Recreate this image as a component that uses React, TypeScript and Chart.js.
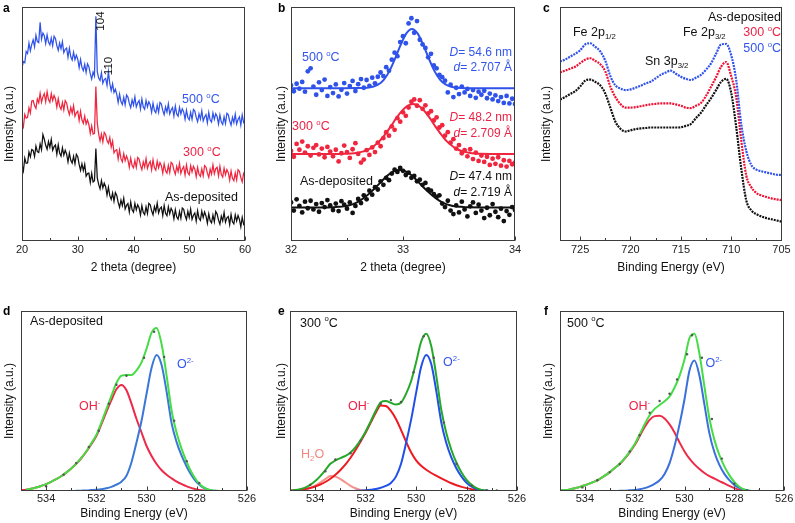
import React, { useEffect, useRef } from 'react';
import { Chart, registerables } from 'chart.js';

Chart.register(...registerables);

const FONT = '"Liberation Sans", Arial, Helvetica, sans-serif';

// ---------------- (a) XRD patterns ----------------
const xrdTheta: number[] = Array.from({ length: 161 }, (_, i) => 20 + i * 0.25); // 0.25 deg sampling grid
const xrdAsDeposited = [
  32.5, 30.0, 35.4, 33.2, 33.3, 38.0, 36.0, 39.1, 38.7, 36.1, 40.6, 38.2, 37.8, 41.5, 39.0, 45.5,
  43.5, 40.9, 39.2, 42.5, 40.1, 43.4, 38.8, 40.3, 41.0, 37.1, 41.1, 37.6, 36.3, 39.8, 36.7, 38.8,
  37.2, 33.8, 37.6, 34.5, 33.3, 36.2, 33.0, 37.0, 36.0, 32.7, 30.2, 33.0, 30.1, 32.8, 27.7, 28.8,
  29.0, 25.0, 28.9, 25.2, 25.8, 39.5, 27.0, 24.2, 22.3, 25.8, 22.7, 24.7, 23.2, 19.6, 23.0, 19.4,
  17.8, 20.5, 17.0, 20.7, 19.5, 16.5, 14.4, 17.5, 15.1, 18.3, 13.7, 15.2, 16.0, 12.4, 16.7, 13.3,
  12.3, 16.1, 13.3, 15.5, 14.2, 11.1, 15.1, 12.2, 11.3, 14.6, 11.7, 16.1, 15.5, 12.9, 11.2, 14.7,
  12.6, 16.2, 12.0, 13.9, 14.5, 10.9, 15.2, 11.8, 10.8, 14.6, 11.7, 14.0, 12.7, 9.5, 13.4, 10.3,
  9.3, 12.6, 9.7, 14.1, 13.5, 10.9, 9.2, 12.7, 10.1, 13.6, 9.3, 11.0, 12.0, 8.5, 12.9, 9.7,
  8.8, 12.7, 10.0, 12.4, 10.7, 7.6, 11.6, 8.7, 7.8, 11.1, 8.2, 12.6, 11.5, 8.9, 7.2, 10.7,
  8.6, 12.2, 8.0, 9.9, 10.5, 7.0, 11.4, 8.2, 7.3, 11.2, 8.5, 10.9, 9.2, 6.1, 10.1, 7.2,
  8.3,
];
const xrd300 = [
  50.7, 48.8, 54.1, 52.5, 52.8, 56.9, 54.7, 59.8, 60.0, 57.9, 56.7, 60.7, 59.1, 63.1, 59.3, 61.6,
  63.0, 59.5, 63.8, 60.4, 59.3, 63.0, 60.0, 62.2, 60.7, 57.2, 60.8, 57.6, 56.3, 59.2, 56.0, 60.0,
  59.0, 56.0, 54.0, 57.1, 54.6, 57.8, 53.3, 54.8, 55.5, 51.5, 55.4, 51.7, 50.3, 53.4, 50.0, 51.7,
  49.7, 45.9, 49.2, 45.7, 46.0, 66.0, 50.5, 45.8, 42.8, 45.7, 42.4, 46.4, 45.5, 42.9, 41.7, 44.2,
  40.1, 42.7, 37.7, 38.7, 39.0, 35.0, 38.9, 35.2, 33.8, 37.3, 34.3, 36.3, 34.7, 31.5, 35.4, 32.3,
  31.3, 34.5, 31.4, 35.7, 35.0, 32.3, 30.5, 33.8, 31.6, 35.2, 31.0, 32.9, 34.0, 30.4, 34.7, 31.3,
  30.3, 34.1, 31.3, 33.5, 32.2, 29.0, 33.0, 30.0, 29.0, 32.3, 29.3, 33.6, 33.0, 30.3, 28.5, 31.9,
  29.7, 33.2, 28.9, 30.8, 31.8, 28.2, 32.5, 29.2, 28.3, 32.2, 29.5, 31.9, 30.7, 27.5, 31.5, 28.5,
  27.6, 30.8, 27.9, 32.2, 31.6, 29.0, 27.2, 30.7, 28.6, 32.5, 28.7, 30.9, 31.5, 27.8, 31.9, 28.4,
  27.3, 31.1, 28.3, 30.5, 29.2, 26.0, 29.9, 26.8, 25.8, 29.1, 26.1, 30.5, 29.8, 27.1, 25.3, 28.8,
  27.5,
];
const xrd500 = [
  74.0, 76.7, 76.2, 81.0, 80.1, 84.6, 81.3, 84.0, 86.0, 83.0, 87.9, 85.2, 84.8, 93.5, 86.3, 88.9,
  87.7, 84.4, 88.1, 85.0, 83.8, 86.7, 83.5, 87.5, 86.5, 83.5, 81.5, 84.6, 82.1, 85.2, 80.5, 81.9,
  82.5, 78.5, 82.4, 78.7, 77.3, 80.7, 77.5, 79.4, 77.7, 74.1, 77.6, 74.2, 72.8, 75.5, 72.0, 75.7,
  74.5, 71.4, 69.2, 72.2, 70.5, 96.0, 72.5, 69.6, 68.6, 71.9, 67.4, 69.0, 69.5, 66.5, 72.4, 67.2,
  64.3, 67.2, 63.5, 64.9, 62.7, 59.2, 62.8, 59.6, 58.3, 61.4, 58.2, 62.4, 61.5, 58.8, 57.0, 60.3,
  58.1, 61.6, 57.3, 59.0, 60.0, 56.4, 60.7, 57.3, 56.3, 60.1, 57.3, 59.5, 58.2, 55.0, 58.9, 55.8,
  54.8, 58.0, 55.0, 59.2, 58.5, 55.8, 54.0, 57.3, 55.1, 58.6, 54.3, 56.0, 57.0, 53.4, 57.7, 54.3,
  53.3, 57.1, 54.3, 56.5, 55.2, 52.0, 55.9, 52.8, 51.8, 55.0, 52.0, 56.2, 55.5, 52.8, 51.0, 54.3,
  52.1, 55.6, 51.3, 53.0, 54.0, 50.5, 54.9, 51.7, 50.8, 54.7, 52.0, 54.4, 53.2, 50.0, 53.9, 50.8,
  49.8, 53.1, 50.2, 54.6, 54.0, 51.3, 49.5, 52.8, 50.6, 54.2, 50.0, 51.9, 53.0, 49.5, 53.9, 50.7,
  51.5,
];

// ---------------- (b) (104) peak detail ----------------
const peakTheta: number[] = Array.from({ length: 81 }, (_, i) => 32 + i * 0.025); // sampling grid
const peakAsDeposited = [
  16.5, 13.0, 17.8, 15.0, 12.2, 16.8, 14.0, 17.2, 13.5, 15.8,
  12.5, 16.2, 14.5, 17.5, 15.2, 13.2, 16.0, 12.8, 17.0, 15.5,
  13.8, 16.5, 12.0, 15.0, 18.0, 16.2, 19.5, 17.8, 21.5, 19.8,
  23.0, 22.0, 25.5, 24.0, 27.0, 26.0, 28.8, 30.5, 29.5, 31.2,
  30.0, 28.2, 29.2, 27.0, 27.8, 25.5, 26.2, 24.0, 24.8, 22.0,
  21.5, 20.0, 18.8, 19.5, 16.0, 14.5, 17.2, 13.0, 11.5, 15.2,
  12.2, 16.8, 13.5, 10.5, 14.8, 16.5, 12.0, 15.5, 13.0, 9.8,
  14.2, 11.0, 15.8, 12.5, 10.2, 13.8, 8.5, 12.8, 11.2, 14.5,
  13.2,
];
const peak300 = [
  38.5, 36.0, 41.5, 39.0, 42.5, 37.8, 40.5, 36.5, 39.8, 41.0,
  37.0, 39.5, 35.8, 40.2, 38.2, 36.2, 39.0, 34.0, 37.5, 40.8,
  38.0, 35.5, 39.2, 41.8, 37.2, 33.5, 34.8, 38.8, 36.8, 40.0,
  38.0, 42.0, 40.5, 44.0, 46.5, 45.0, 49.0, 47.5, 52.5, 51.0,
  55.0, 53.5, 57.0, 59.5, 60.5, 57.8, 60.2, 56.5, 58.0, 54.5,
  55.5, 51.5, 52.8, 48.5, 49.5, 45.0, 46.5, 42.0, 43.5, 39.5,
  41.0, 37.5, 38.8, 36.2, 39.2, 35.0, 37.8, 34.2, 36.5, 33.8,
  36.0, 32.5, 35.2, 33.0, 35.8, 32.2, 34.5, 31.8, 34.2, 32.8,
  33.5,
];
const peak500 = [
  66.5, 64.0, 67.2, 65.1, 68.0, 63.8, 72.5, 73.8, 66.0, 62.5,
  67.8, 64.5, 69.0, 62.0, 65.8, 63.2, 66.9, 61.8, 64.6, 67.5,
  63.0, 66.2, 68.4, 64.1, 67.0, 69.2, 65.5, 68.8, 66.3, 69.8,
  67.4, 70.2, 72.0, 70.5, 74.3, 72.8, 77.5, 80.5, 79.0, 85.0,
  87.5, 84.5, 93.0, 95.2, 89.0, 94.0, 86.0, 84.0, 82.5, 78.5,
  80.0, 75.0, 73.8, 71.0, 70.0, 68.5, 63.5, 66.8, 61.5, 65.5,
  62.8, 66.0, 63.5, 65.0, 62.0, 64.5, 61.2, 63.8, 62.5, 64.2,
  61.0, 63.0, 60.5, 62.2, 59.8, 61.5, 59.0, 62.0, 58.8, 60.8,
  58.5,
];
const fitAsDepTheta = [32.0, 32.3, 32.37, 32.42, 32.47, 32.52, 32.57, 32.62, 32.67, 32.72, 32.77, 32.82, 32.87, 32.92, 32.97, 33.02, 33.07, 33.12, 33.17, 33.22, 33.27, 33.32, 33.37, 33.42, 33.47, 33.52, 33.57, 34.0];
const fitAsDep = [14.3, 14.3, 14.4, 14.6, 14.8, 15.3, 16.1, 17.4, 19.1, 21.2, 23.6, 26.1, 28.3, 29.8, 30.3, 29.8, 28.3, 26.1, 23.6, 21.2, 19.1, 17.4, 16.1, 15.3, 14.8, 14.6, 14.4, 14.3];
const fit300Theta = [32.0, 32.4, 32.49, 32.54, 32.59, 32.64, 32.69, 32.74, 32.79, 32.84, 32.89, 32.94, 32.99, 33.04, 33.09, 33.14, 33.19, 33.24, 33.29, 33.34, 33.39, 33.44, 33.49, 33.54, 33.59, 33.64, 33.69, 34.0];
const fit300 = [37.2, 37.2, 37.3, 37.4, 37.7, 38.2, 39.1, 40.6, 42.7, 45.6, 48.9, 52.5, 55.6, 57.8, 58.6, 57.8, 55.6, 52.5, 48.9, 45.6, 42.7, 40.6, 39.1, 38.2, 37.7, 37.4, 37.3, 37.2];
const fit500Theta = [32.0, 32.4, 32.6, 32.68, 32.73, 32.78, 32.83, 32.88, 32.93, 32.98, 33.03, 33.08, 33.13, 33.18, 33.23, 33.28, 33.33, 33.38, 33.43, 33.48, 33.56, 33.8, 34.0];
const fit500 = [65.3, 65.3, 65.4, 65.5, 65.9, 66.9, 69.0, 72.7, 78.0, 83.9, 88.7, 90.6, 88.7, 83.9, 78.0, 72.7, 69.0, 66.9, 65.9, 65.5, 65.3, 65.3, 65.3];

// ---------------- (c) Fe 2p XPS ----------------
const fe2pEnergy: number[] = Array.from({ length: 45 }, (_, i) => 727 - i * 0.5); // sampling grid
const fe2pAsDeposited = [
  60.5, 61.5, 62.8, 64.0, 66.0, 68.5, 69.0, 68.0, 66.5, 63.0, 57.0, 51.0, 48.0, 46.8, 47.3,
  47.8, 48.1, 48.3, 48.5, 48.5, 48.5, 48.5, 48.5, 48.5, 48.6, 49.2, 50.0, 52.5, 54.8, 58.0,
  61.0, 64.5, 68.0, 69.3, 63.5, 48.8, 31.0, 17.4, 13.1, 11.5, 10.5, 9.8, 9.3, 8.8, 8.3,
];
const fe2p300 = [
  72.0, 72.8, 73.6, 74.5, 76.0, 77.5, 78.1, 77.0, 75.5, 72.5, 66.0, 61.5, 58.5, 57.0, 57.0,
  57.2, 57.6, 58.0, 58.4, 58.6, 58.8, 58.8, 58.8, 58.4, 57.8, 57.0, 56.8, 57.8, 59.0, 62.0,
  65.9, 70.0, 74.5, 76.5, 70.5, 61.5, 43.1, 28.0, 23.0, 20.5, 19.5, 18.8, 18.2, 17.8, 17.5,
];
const fe2p500 = [
  76.7, 77.5, 78.8, 80.0, 81.5, 84.0, 84.5, 83.0, 81.0, 77.0, 70.5, 66.5, 65.2, 64.5, 64.8,
  65.5, 66.3, 67.3, 68.1, 69.5, 71.0, 72.0, 72.8, 71.5, 70.2, 69.3, 68.8, 69.8, 71.0, 73.2,
  75.9, 80.0, 84.0, 84.2, 79.5, 68.8, 50.0, 38.5, 32.5, 30.5, 29.8, 29.3, 28.8, 28.3, 28.2,
];

// ---------------- (d-f) O 1s XPS ----------------
const o1sEnergy: number[] = Array.from({ length: 46 }, (_, i) => Math.round((535 - i * 0.2) * 10) / 10); // sampling grid
const N = null;
// (d) as-deposited
const o1sAsDepTotal = [N, 0.7, 1.2, 1.9, 2.8, 3.8, 5.1, 6.6, 8.2, 10.2, 12.5, 15.2, 18.4, 22.1, 26.5, 31.2, 38.0, 45.5, 52.8, 60.0, 64.1, 64.5, 64.5, 67.0, 71.5, 79.0, 88.0, 90.6, 81.5, 64.0, 44.5, 32.2, 23.3, 16.1, 10.1, 5.7, 2.8, 1.1, 0.3, 0.1, 0, 0, N, N, N, N];
const o1sAsDepOH = [0.4, 0.7, 1.2, 1.9, 2.8, 3.8, 5.1, 6.6, 8.2, 10.2, 12.5, 15.1, 18.2, 21.8, 26.0, 30.5, 37.0, 44.0, 50.5, 56.5, 58.9, 56.0, 48.5, 40.0, 32.5, 25.0, 19.5, 15.0, 11.5, 9.0, 7.0, 5.2, 3.8, 2.6, 1.6, 0.9, 0.4, 0.1, 0.0, N, N, N, N, N, N, N];
const o1sAsDepO2 = [N, N, N, N, N, 0, 0, 0, 0, 0, 0, 0.1, 0.2, 0.3, 0.5, 0.7, 1.0, 1.5, 2.3, 3.5, 5.2, 8.5, 16.0, 27.0, 39.0, 54.0, 68.5, 75.6, 70.0, 55.0, 37.5, 27.0, 19.5, 13.5, 8.5, 4.8, 2.4, 1.0, 0.3, 0, N, N, N, N, N, N];
const o1sAsDepPtsE = [534.0, 533.3, 532.8, 532.3, 531.9, 531.5, 531.2, 530.8, 530.1, 529.7, 529.3, 528.9, 528.4, 527.9];
const o1sAsDepPtsI = [2.6, 9.0, 15.5, 24.5, 33.5, 48.5, 59.0, 64.0, 74.0, 88.5, 74.5, 39.0, 16.5, 4.5];
// (e) 300 °C
const o1s300Total = [0.2, 0.5, 1.0, 1.9, 3.4, 5.5, 8.3, 11.6, 15.1, 17.0, 18.3, 19.5, 21.4, 24.4, 28.3, 33.1, 38.7, 44.6, 49.3, 50.0, 49.0, 48.0, 49.0, 54.0, 61.0, 71.5, 83.0, 87.4, 80.5, 64.0, 45.0, 32.1, 22.8, 15.7, 10.3, 6.2, 3.4, 1.6, 0.6, 0.1, 0, 0, 0, N, N, N];
const o1s300OH = [0.2, 0.4, 0.7, 1.1, 1.7, 2.5, 3.6, 5.0, 6.8, 9.0, 11.7, 14.8, 18.5, 22.8, 27.5, 32.5, 38.0, 43.5, 47.5, 47.2, 44.5, 40.0, 34.0, 27.5, 21.5, 17.0, 14.0, 11.8, 10.0, 8.5, 7.0, 5.6, 4.3, 3.2, 2.3, 1.6, 1.0, 0.5, 0.2, 0, N, N, N, N, N, N];
const o1s300O2 = [N, N, N, N, N, N, N, N, N, N, 0, 0, 0, 0.1, 0.2, 0.4, 0.7, 1.1, 1.8, 2.8, 4.5, 8.0, 15.0, 26.5, 39.5, 54.5, 69.0, 75.6, 70.5, 55.5, 38.0, 26.5, 18.5, 12.5, 8.0, 4.6, 2.4, 1.1, 0.4, 0.1, 0, N, N, N, N, N];
const o1s300H2O = [N, 0.1, 0.3, 0.8, 1.7, 3.0, 4.7, 6.6, 8.3, 8.0, 6.6, 4.7, 2.9, 1.5, 0.6, 0.2, 0, N, N, N, N, N, N, N, N, N, N, N, N, N, N, N, N, N, N, N, N, N, N, N, N, N, N, N, N, N];
const o1s300PtsE = [534.2, 533.6, 533.2, 532.6, 532.2, 531.4, 531.0, 530.6, 530.1, 529.7, 529.3, 528.9, 528.4, 527.8, 527.2, 526.8];
const o1s300PtsI = [3.4, 11.0, 17.5, 21.0, 28.0, 48.5, 50.5, 49.5, 66.0, 86.0, 74.0, 38.0, 15.0, 3.0, 0.5, 0.3];
// (f) 500 °C
const o1s500Total = [0.3, 0.5, 0.9, 1.5, 2.3, 3.2, 4.2, 5.3, 6.8, 8.5, 10.5, 12.8, 15.1, 18.2, 21.9, 26.1, 31.5, 37.1, 42.1, 45.6, 47.8, 49.8, 52.5, 57.5, 64.0, 73.0, 85.0, 87.3, 76.2, 58.0, 40.3, 28.4, 20.0, 13.7, 8.8, 5.0, 2.4, 0.9, 0.2, 0, 0, 0, 0, 0, N, N];
const o1s500OH = [0.3, 0.5, 0.9, 1.5, 2.3, 3.2, 4.2, 5.3, 6.8, 8.5, 10.5, 12.8, 15.0, 18.0, 21.5, 25.5, 30.5, 35.5, 39.5, 41.6, 41.8, 40.3, 37.0, 32.5, 27.0, 22.0, 18.0, 14.8, 12.2, 10.0, 8.3, 6.9, 5.5, 4.2, 2.8, 1.6, 0.7, 0.2, 0, N, N, N, N, N, N, N];
const o1s500O2 = [N, N, N, N, N, N, N, N, N, N, 0, 0, 0.1, 0.2, 0.4, 0.6, 1.0, 1.6, 2.6, 4.0, 6.0, 9.5, 15.5, 25.0, 37.0, 51.0, 67.0, 72.5, 64.0, 48.0, 32.0, 21.5, 14.5, 9.5, 6.0, 3.4, 1.7, 0.7, 0.2, 0, N, N, N, N, N, N];
const o1s500PtsE = [534.1, 533.5, 533.0, 532.6, 532.2, 531.8, 531.4, 531.0, 530.6, 530.3, 529.9, 529.7, 529.3, 528.9, 528.5, 528.0, 527.5, 527.0];
const o1s500PtsI = [2.0, 6.0, 10.5, 15.0, 22.0, 31.0, 43.5, 50.0, 54.0, 62.0, 76.0, 86.5, 74.0, 40.0, 18.0, 4.0, 0.5, 0.2];

// ---------------- colours ----------------
const BLACK = '#111111';
const RED = '#f0263f';
const BLUE = '#2f52ea';
const TXT_BLUE = '#3355ee';
const TXT_RED = '#ee2244';

// ---------------- helpers ----------------
type Part = { t: string; pos?: 'sup' | 'sub'; it?: boolean };
type Note = { x: number; y: number; parts: Part[]; color: string; align?: 'left' | 'right' | 'center'; size?: number; rotate?: boolean };

const xy = (xs: number[], ys: (number | null)[]) => ys.map((y, i) => ({ x: xs[i], y }));
const lineDs = (data: any[], color: string, width: number, extra: any = {}) => ({
  data, borderColor: color, backgroundColor: color, borderWidth: width, pointRadius: 0, fill: false, ...extra,
});
const dotDs = (data: any[], color: string, r: number, extra: any = {}) => ({
  data, showLine: false, pointRadius: r, pointHoverRadius: r, pointBackgroundColor: color,
  pointBorderWidth: 0, borderColor: color, backgroundColor: color, ...extra,
});
const deg = (v: string): Part[] => [{ t: v + ' ' }, { t: 'o', pos: 'sup' }, { t: 'C' }];
const P = (t: string): Part[] => [{ t }];

function drawRich(ctx: CanvasRenderingContext2D, parts: Part[], x: number, y: number, size: number, align: string, color: string) {
  const fontFor = (p: Part) => `${p.it ? 'italic ' : ''}${p.pos ? size * 0.62 : size}px ${FONT}`;
  const widths = parts.map((p) => { ctx.font = fontFor(p); return ctx.measureText(p.t).width; });
  const total = widths.reduce((a, b) => a + b, 0);
  let cx = align === 'right' ? x - total : align === 'center' ? x - total / 2 : x;
  ctx.textBaseline = 'middle';
  ctx.textAlign = 'left';
  ctx.fillStyle = color;
  parts.forEach((p, i) => {
    ctx.font = fontFor(p);
    const dy = p.pos === 'sup' ? -size * 0.33 : p.pos === 'sub' ? size * 0.28 : 0;
    ctx.fillText(p.t, cx, y + dy);
    cx += widths[i];
  });
}

type Spec = {
  id: string; left: number; top: number; w: number; h: number;
  area: { left: number; right: number; top: number; bottom: number };
  xMin: number; xMax: number; reverse: boolean; step: number; major: number;
  xTitle: string; yTitlePad: number; xTitlePad: number; tickPad: number;
  letter: string; letterX: number; letterY: number;
  datasets: any[]; notes: Note[];
};

function buildConfig(spec: Spec): any {
  const isMajor = (v: number) => Math.abs(v / spec.major - Math.round(v / spec.major)) < 1e-6;
  const decor = {
    id: 'decor_' + spec.id,
    afterDatasetsDraw(chart: any) {
      const { ctx, chartArea } = chart;
      const { left, right, top, bottom } = chartArea;
      const xs = chart.scales.x;
      const ys = chart.scales.y;
      ctx.save();
      ctx.strokeStyle = '#3c3c3c';
      ctx.lineWidth = 1;
      ctx.strokeRect(Math.round(left) + 0.5, Math.round(top) + 0.5, Math.round(right - left) - 1, Math.round(bottom - top) - 1);
      ctx.beginPath();
      xs.ticks.forEach((tk: any) => {
        const px = Math.round(xs.getPixelForValue(tk.value)) + 0.5;
        const len = isMajor(tk.value) ? 4 : 2.5;
        ctx.moveTo(px, Math.round(bottom) - 0.5);
        ctx.lineTo(px, Math.round(bottom) - 0.5 - len);
      });
      ctx.stroke();
      spec.notes.forEach((n) => {
        const px = xs.getPixelForValue(n.x);
        const py = ys.getPixelForValue(n.y);
        const size = n.size ?? 12.5;
        if (n.rotate) {
          ctx.save();
          ctx.translate(px, py);
          ctx.rotate(-Math.PI / 2);
          drawRich(ctx, n.parts, 0, 0, size, n.align ?? 'center', n.color);
          ctx.restore();
        } else {
          drawRich(ctx, n.parts, px, py, size, n.align ?? 'left', n.color);
        }
      });
      ctx.font = `bold 12px ${FONT}`;
      ctx.fillStyle = '#000';
      ctx.textAlign = 'left';
      ctx.textBaseline = 'alphabetic';
      ctx.fillText(spec.letter, spec.letterX, spec.letterY);
      ctx.restore();
    },
  };
  return {
    type: 'line',
    data: { datasets: spec.datasets },
    options: {
      animation: false,
      responsive: false,
      maintainAspectRatio: false,
      devicePixelRatio: 1,
      events: [],
      layout: { padding: { top: spec.area.top, right: spec.w - spec.area.right, left: 0, bottom: 0 } },
      plugins: { legend: { display: false }, tooltip: { enabled: false } },
      scales: {
        x: {
          type: 'linear',
          min: spec.xMin,
          max: spec.xMax,
          reverse: spec.reverse,
          afterFit: (s: any) => { s.height = spec.h - spec.area.bottom; },
          grid: { display: false, drawTicks: false },
          border: { display: false },
          ticks: {
            stepSize: spec.step,
            includeBounds: false,
            autoSkip: false,
            maxRotation: 0,
            minRotation: 0,
            padding: spec.tickPad,
            color: '#222',
            font: { family: FONT, size: 11 },
            callback: (v: any) => (isMajor(Number(v)) ? String(Math.round(Number(v))) : ''),
          },
          title: {
            display: true,
            text: spec.xTitle,
            color: '#111',
            font: { family: FONT, size: 12 },
            padding: { top: 0, bottom: spec.xTitlePad },
          },
        },
        y: {
          type: 'linear',
          min: 0,
          max: 100,
          afterFit: (s: any) => { s.width = spec.area.left; },
          grid: { display: false, drawTicks: false },
          border: { display: false },
          ticks: { display: false },
          title: {
            display: true,
            text: 'Intensity (a.u.)',
            color: '#111',
            font: { family: FONT, size: 12 },
            padding: { top: spec.yTitlePad, bottom: 0 },
          },
        },
      },
    },
    plugins: [decor],
  };
}

// ---------------- panel specs ----------------
const TOP_H = 285;
const BOT_TOP = 285;
const BOT_H = 238;

const SPECS: Spec[] = [
  {
    id: 'a', left: 0, top: 0, w: 265, h: TOP_H,
    area: { left: 22, right: 245, top: 7, bottom: 241 },
    xMin: 20, xMax: 60, reverse: false, step: 5, major: 10,
    xTitle: '2 theta (degree)', yTitlePad: 2.8, xTitlePad: 10.3, tickPad: 2.4,
    letter: 'a', letterX: 3, letterY: 12,
    datasets: [
      lineDs(xy(xrdTheta, xrd500), BLUE, 1.25),
      lineDs(xy(xrdTheta, xrd300), RED, 1.25),
      lineDs(xy(xrdTheta, xrdAsDeposited), BLACK, 1.25),
    ],
    notes: [
      { x: 34.1, y: 94.0, parts: P('104'), color: BLACK, align: 'center', rotate: true, size: 11.5 },
      { x: 35.6, y: 74.8, parts: P('110'), color: BLACK, align: 'center', rotate: true, size: 11.5 },
      { x: 48.7, y: 60.3, parts: deg('500'), color: TXT_BLUE },
      { x: 48.88, y: 37.6, parts: deg('300'), color: TXT_RED },
      { x: 45.65, y: 18.4, parts: P('As-deposited'), color: BLACK },
    ],
  },
  {
    id: 'b', left: 265, top: 0, w: 265, h: TOP_H,
    area: { left: 26, right: 250, top: 7, bottom: 241 },
    xMin: 32, xMax: 34, reverse: false, step: 0.5, major: 1,
    xTitle: '2 theta (degree)', yTitlePad: 9.5, xTitlePad: 10.3, tickPad: 2.4,
    letter: 'b', letterX: 13, letterY: 12,
    datasets: [
      lineDs(xy(fit500Theta, fit500), BLUE, 2, { cubicInterpolationMode: 'monotone', order: 0 }),
      lineDs(xy(fit300Theta, fit300), RED, 2, { cubicInterpolationMode: 'monotone', order: 0 }),
      lineDs(xy(fitAsDepTheta, fitAsDep), BLACK, 2, { cubicInterpolationMode: 'monotone', order: 0 }),
      dotDs(xy(peakTheta, peak500), BLUE, 2.4, { order: 1 }),
      dotDs(xy(peakTheta, peak300), RED, 2.4, { order: 1 }),
      dotDs(xy(peakTheta, peakAsDeposited), BLACK, 2.4, { order: 1 }),
    ],
    notes: [
      { x: 32.098, y: 78.2, parts: deg('500'), color: TXT_BLUE },
      { x: 32.009, y: 48.7, parts: deg('300'), color: TXT_RED },
      { x: 32.08, y: 25.2, parts: P('As-deposited'), color: BLACK },
      { x: 33.973, y: 80.3, parts: [{ t: 'D', it: true }, { t: '= 54.6 nm' }], color: TXT_BLUE, align: 'right', size: 12 },
      { x: 33.973, y: 73.9, parts: [{ t: 'd', it: true }, { t: '= 2.707 Å' }], color: TXT_BLUE, align: 'right', size: 12 },
      { x: 33.973, y: 52.6, parts: [{ t: 'D', it: true }, { t: '= 48.2 nm' }], color: TXT_RED, align: 'right', size: 12 },
      { x: 33.973, y: 45.7, parts: [{ t: 'd', it: true }, { t: '= 2.709 Å' }], color: TXT_RED, align: 'right', size: 12 },
      { x: 33.973, y: 27.4, parts: [{ t: 'D', it: true }, { t: '= 47.4 nm' }], color: BLACK, align: 'right', size: 12 },
      { x: 33.973, y: 20.5, parts: [{ t: 'd', it: true }, { t: '= 2.719 Å' }], color: BLACK, align: 'right', size: 12 },
    ],
  },
  {
    id: 'c', left: 530, top: 0, w: 265, h: TOP_H,
    area: { left: 30, right: 252, top: 7, bottom: 241 },
    xMin: 704.95, xMax: 727, reverse: true, step: 2.5, major: 5,
    xTitle: 'Binding Energy (eV)', yTitlePad: 9.5, xTitlePad: 10.3, tickPad: 2.4,
    letter: 'c', letterX: 13, letterY: 12,
    datasets: [
      lineDs(xy(fe2pEnergy, fe2p500), BLUE, 2.2, { borderDash: [2, 1], cubicInterpolationMode: 'monotone' }),
      lineDs(xy(fe2pEnergy, fe2p300), '#ee1133', 2.2, { borderDash: [2, 1], cubicInterpolationMode: 'monotone' }),
      lineDs(xy(fe2pEnergy, fe2pAsDeposited), BLACK, 2.2, { borderDash: [2, 1], cubicInterpolationMode: 'monotone' }),
    ],
    notes: [
      { x: 725.71, y: 88.9, parts: [{ t: 'Fe 2p' }, { t: '1/2', pos: 'sub' }], color: BLACK },
      { x: 718.56, y: 76.5, parts: [{ t: 'Sn 3p' }, { t: '3/2', pos: 'sub' }], color: BLACK },
      { x: 714.79, y: 88.9, parts: [{ t: 'Fe 2p' }, { t: '3/2', pos: 'sub' }], color: BLACK },
      { x: 705.05, y: 95.7, parts: P('As-deposited'), color: BLACK, align: 'right' },
      { x: 705.05, y: 88.9, parts: deg('300'), color: TXT_RED, align: 'right' },
      { x: 705.05, y: 82.05, parts: deg('500'), color: TXT_BLUE, align: 'right' },
    ],
  },
  {
    id: 'd', left: 0, top: BOT_TOP, w: 265, h: BOT_H,
    area: { left: 21, right: 247, top: 26, bottom: 206 },
    xMin: 526, xMax: 535, reverse: true, step: 1, major: 2,
    xTitle: 'Binding Energy (eV)', yTitlePad: 2.8, xTitlePad: 2.3, tickPad: 1.7,
    letter: 'd', letterX: 3, letterY: 30,
    datasets: [
      dotDs(xy(o1sAsDepPtsE, o1sAsDepPtsI), '#555', 1.2, { order: 0 }),
      lineDs(xy(o1sEnergy, o1sAsDepTotal), '#45dc45', 2, { cubicInterpolationMode: 'monotone', order: 1 }),
      lineDs(xy(o1sEnergy, o1sAsDepO2), '#3a78d8', 2, { cubicInterpolationMode: 'monotone', order: 2 }),
      lineDs(xy(o1sEnergy, o1sAsDepOH), '#ee2a4a', 2, { cubicInterpolationMode: 'monotone', order: 3 }),
    ],
    notes: [
      { x: 534.64, y: 93.9, parts: P('As-deposited'), color: BLACK },
      { x: 532.69, y: 46.7, parts: [{ t: 'OH' }, { t: '-', pos: 'sup' }], color: TXT_RED },
      { x: 528.79, y: 70.0, parts: [{ t: 'O' }, { t: '2-', pos: 'sup' }], color: TXT_BLUE },
    ],
  },
  {
    id: 'e', left: 265, top: BOT_TOP, w: 265, h: BOT_H,
    area: { left: 25, right: 252, top: 26, bottom: 206 },
    xMin: 526, xMax: 535, reverse: true, step: 1, major: 2,
    xTitle: 'Binding Energy (eV)', yTitlePad: 9.5, xTitlePad: 2.3, tickPad: 1.7,
    letter: 'e', letterX: 13, letterY: 30,
    datasets: [
      dotDs(xy(o1s300PtsE, o1s300PtsI), '#555', 1.2, { order: 0 }),
      lineDs(xy(o1sEnergy, o1s300Total), '#26a82a', 2, { cubicInterpolationMode: 'monotone', order: 1 }),
      lineDs(xy(o1sEnergy, o1s300O2), '#2050e8', 2, { cubicInterpolationMode: 'monotone', order: 2 }),
      lineDs(xy(o1sEnergy, o1s300OH), '#ee1a22', 2, { cubicInterpolationMode: 'monotone', order: 3 }),
      lineDs(xy(o1sEnergy, o1s300H2O), '#f4928a', 2, { cubicInterpolationMode: 'monotone', order: 4 }),
    ],
    notes: [
      { x: 534.6, y: 93.3, parts: deg('300'), color: BLACK },
      { x: 532.7, y: 46.7, parts: [{ t: 'OH' }, { t: '-', pos: 'sup' }], color: TXT_RED },
      { x: 528.93, y: 71.1, parts: [{ t: 'O' }, { t: '2-', pos: 'sup' }], color: TXT_BLUE },
      { x: 534.56, y: 20.0, parts: [{ t: 'H' }, { t: '2', pos: 'sub' }, { t: 'O' }], color: '#f08a80' },
    ],
  },
  {
    id: 'f', left: 530, top: BOT_TOP, w: 265, h: BOT_H,
    area: { left: 30, right: 255, top: 26, bottom: 206 },
    xMin: 526, xMax: 535, reverse: true, step: 1, major: 2,
    xTitle: 'Binding Energy (eV)', yTitlePad: 11.1, xTitlePad: 2.3, tickPad: 1.7,
    letter: 'f', letterX: 14, letterY: 30,
    datasets: [
      dotDs(xy(o1s500PtsE, o1s500PtsI), '#555', 1.2, { order: 0 }),
      lineDs(xy(o1sEnergy, o1s500Total), '#45dc45', 2, { cubicInterpolationMode: 'monotone', order: 1 }),
      lineDs(xy(o1sEnergy, o1s500O2), '#3a6fdc', 2, { cubicInterpolationMode: 'monotone', order: 2 }),
      lineDs(xy(o1sEnergy, o1s500OH), '#ee2a4a', 2, { cubicInterpolationMode: 'monotone', order: 3 }),
    ],
    notes: [
      { x: 534.72, y: 93.3, parts: deg('500'), color: BLACK },
      { x: 532.24, y: 46.7, parts: [{ t: 'OH' }, { t: '-', pos: 'sup' }], color: TXT_RED },
      { x: 529.16, y: 70.6, parts: [{ t: 'O' }, { t: '2-', pos: 'sup' }], color: TXT_BLUE },
    ],
  },
];

function Panel({ spec }: { spec: Spec }) {
  const ref = useRef<HTMLCanvasElement | null>(null);
  useEffect(() => {
    if (!ref.current) return;
    const chart = new Chart(ref.current, buildConfig(spec));
    return () => chart.destroy();
  }, [spec]);
  return (
    <canvas
      ref={ref}
      width={spec.w}
      height={spec.h}
      style={{ position: 'absolute', left: spec.left, top: spec.top, width: spec.w, height: spec.h }}
    />
  );
}

export default function App() {
  return (
    <div style={{ position: 'fixed', left: 0, top: 0, width: 795, height: 523, background: '#ffffff', overflow: 'hidden' }}>
      {SPECS.map((s) => (
        <Panel key={s.id} spec={s} />
      ))}
    </div>
  );
}
